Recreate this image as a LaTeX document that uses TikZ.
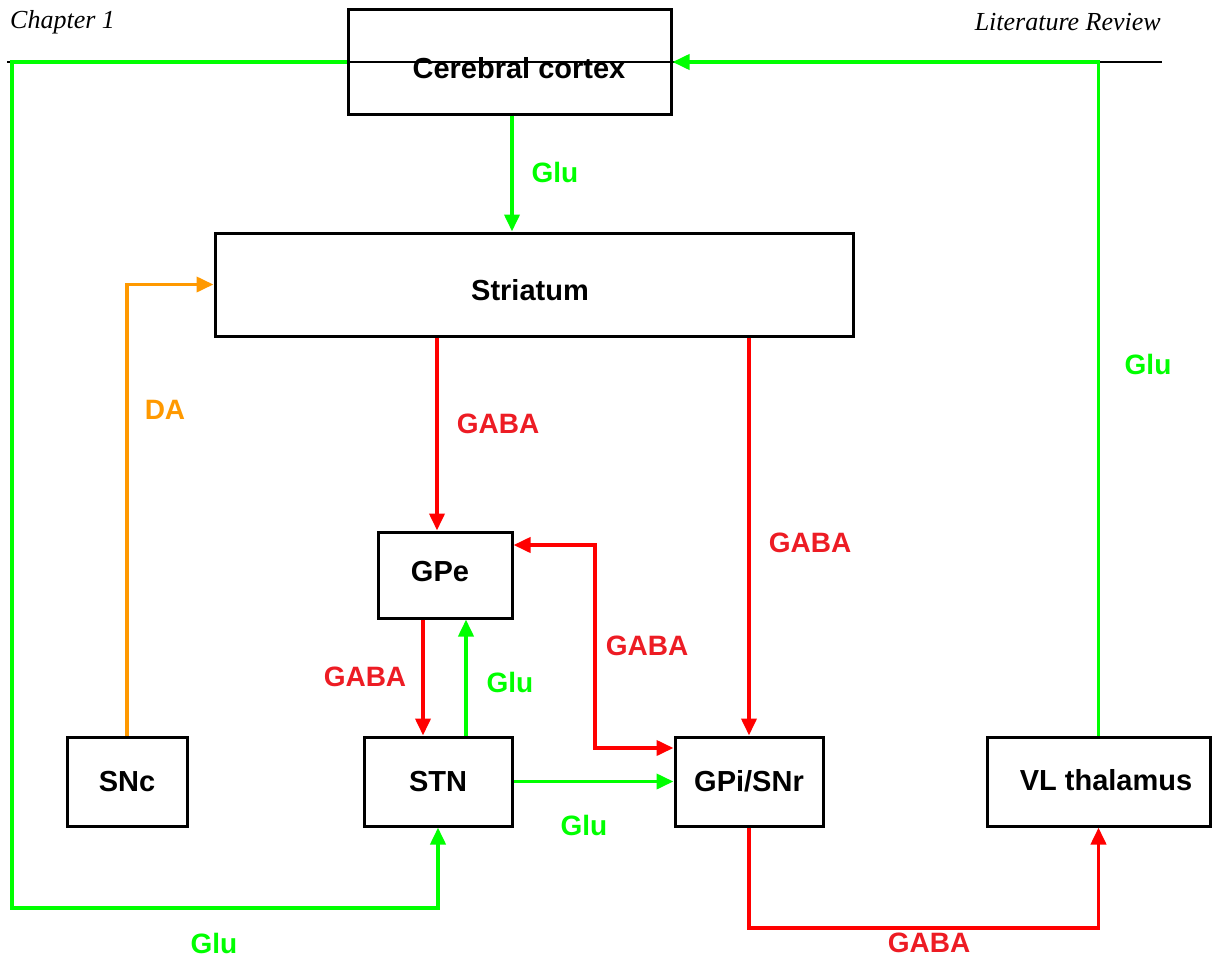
\documentclass[tikz,border=0pt]{standalone}
\usepackage{fontspec}
\setmainfont{Liberation Sans}
\newfontfamily\hdrfont{Liberation Serif}
\usetikzlibrary{arrows.meta}
\definecolor{lgreen}{HTML}{00FF00}
\definecolor{lred}{HTML}{FF0000}
\definecolor{tred}{HTML}{ED1C24}
\definecolor{lorange}{HTML}{FF9900}
\tikzset{tip/.tip={Triangle[length=17pt,width=15pt]}}
\begin{document}
\begin{tikzpicture}[x=1pt,y=-1pt,
  box/.style={draw=black,line width=3pt,inner sep=0pt,font=\fontsize{29}{31}\selectfont\bfseries},
  boxtext/.style={inner sep=0pt,font=\fontsize{29}{31}\selectfont\bfseries},
  conn/.style={line width=3.8pt,-tip},
  glu/.style={conn,color=lgreen},
  gaba/.style={conn,color=lred},
  da/.style={conn,color=lorange},
  lbl/.style={inner sep=0pt,font=\fontsize{28}{30}\selectfont\bfseries},
  glulbl/.style={lbl,text=lgreen},
  gabalbl/.style={lbl,text=tred},
  dalbl/.style={lbl,text=lorange},
  hdr/.style={inner sep=0pt,font=\fontsize{26}{28}\selectfont\hdrfont\itshape}]
\useasboundingbox (0,0) rectangle (1213,958);
% header
\node[hdr,anchor=west] (chap) at (10,22) {Chapter 1};
\node[hdr,anchor=east] (litrev) at (1161,22) {Literature Review};
\coordinate (hl) at (7,62);
\coordinate (hr) at (1162,62);
\draw[line width=1.8pt,black] (hl) -- (hr);
% boxes
\node[box,minimum width=323pt,minimum height=104pt] (cortex) at (509.5,62) {};
\node[boxtext] (cortextext) at (519,68) {Cerebral cortex};
\node[box,minimum width=638pt,minimum height=103pt] (striatum) at (534,284.5) {};
\node[boxtext] (striatumtext) at (530,290) {Striatum};
\node[box,minimum width=134pt,minimum height=86pt] (gpe) at (445,575) {};
\node[boxtext] (gpetext) at (440,572) {GPe};
\node[box,minimum width=120pt,minimum height=89pt] (snc) at (127,781.5) {SNc};
\node[box,minimum width=148pt,minimum height=89pt] (stn) at (438,781.5) {STN};
\node[box,minimum width=148pt,minimum height=89pt] (gpi) at (749,781.5) {GPi/SNr};
\node[box,minimum width=223pt,minimum height=89pt] (vl) at (1098.5,781.5) {};
\node[boxtext] (vltext) at (1106,780) {VL thalamus};
% helper coordinates
\coordinate (turn) at (595,650);
\coordinate (low) at (900,928);
\coordinate (lc) at (12,908);
% connectors
\draw[glu] ([xshift=2.5pt]cortex.south) -- ([xshift=2.5pt]cortex.south |- striatum.north);
\draw[da] (snc.north) |- (striatum.west);
\draw[gaba] ([xshift=-8pt]gpe.north |- striatum.south) -- ([xshift=-8pt]gpe.north);
\draw[gaba] (gpi.north |- striatum.south) -- (gpi.north);
\draw[gaba] ([xshift=-22pt]gpe.south) -- ([xshift=-22pt]gpe.south |- stn.north);
\draw[glu] ([xshift=21pt]gpe.south |- stn.north) -- ([xshift=21pt]gpe.south);
\draw[gaba,tip-tip] ([yshift=30pt]gpe.east) -| (turn) |- ([yshift=33.5pt]gpi.west);
\draw[glu] (stn.east) -- (gpi.west);
\draw[gaba] (gpi.south) -- (gpi.south |- low) -| (vl.south);
\draw[glu] (vl.north) |- (cortex.east);
\draw[glu] (cortex.west) -| (lc) -| (stn.south);
% labels
\node[glulbl] (l1) at (555,172) {Glu};
\node[dalbl] (l2) at (165,410) {DA};
\node[gabalbl] (l3) at (498,424) {GABA};
\node[gabalbl] (l4) at (810,543) {GABA};
\node[gabalbl] (l5) at (647,646) {GABA};
\node[gabalbl] (l6) at (365,677) {GABA};
\node[glulbl] (l7) at (510,682) {Glu};
\node[glulbl] (l8) at (584,825) {Glu};
\node[glulbl] (l9) at (214,943) {Glu};
\node[gabalbl] (l10) at (929,943) {GABA};
\node[glulbl] (l11) at (1148,364) {Glu};
\end{tikzpicture}
\end{document}
